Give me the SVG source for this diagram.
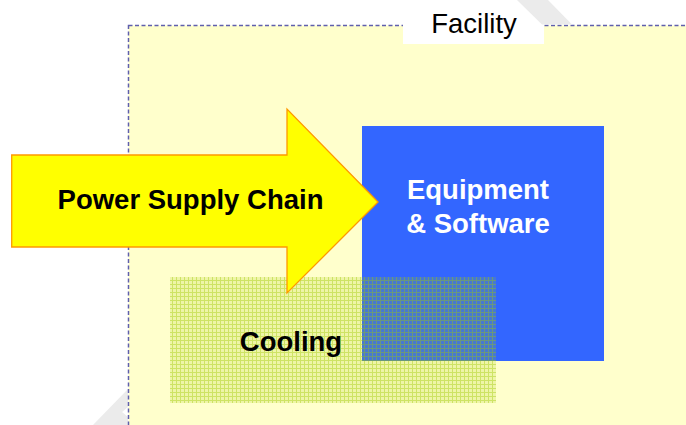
<svg xmlns="http://www.w3.org/2000/svg" width="686" height="425" viewBox="0 0 686 425">
  <style>
    .lbl { font-family: "Liberation Sans", Arial, sans-serif; font-size: 27.5px; }
    .b { font-weight: bold; }
    .wm { fill: #EBEBEB; }
  </style>
  <defs>
    <pattern id="grid" width="4" height="4" patternUnits="userSpaceOnUse">
      <rect x="0" y="0" width="4" height="4" fill="rgb(160,200,0)" fill-opacity="0.18"/>
      <rect x="0" y="0" width="4" height="1" fill="rgb(160,200,0)" fill-opacity="0.4"/>
      <rect x="0" y="1" width="1" height="3" fill="rgb(160,200,0)" fill-opacity="0.4"/>
    </pattern>
  </defs>
  <rect x="0" y="0" width="686" height="425" fill="#FFFFFF"/>
  <!-- watermark fragments -->
  <polygon class="wm" points="93,425 128,389 128,407 122,412 128,417 128,425"/>
  <g id="facility">
    <rect x="128.5" y="25.5" width="570" height="410" fill="#FFFFCC" stroke="#5F5FAD" stroke-width="1.5" stroke-dasharray="4,2.5"/>
    <rect x="403" y="0" width="141" height="44" fill="#FFFFFF"/>
    <polygon class="wm" points="517,0 548,0 572,24.5 542,24.5"/>
    <text class="lbl" x="474" y="33" text-anchor="middle" fill="#000000">Facility</text>
  </g>
  <g id="equipment">
    <rect x="362" y="126" width="242" height="235" fill="#3366FF"/>
    <text class="lbl b" x="478" y="199" text-anchor="middle" fill="#FFFFFF">Equipment</text>
    <text class="lbl b" x="478" y="233" text-anchor="middle" fill="#FFFFFF">&amp; Software</text>
  </g>
  <g id="cooling">
    <rect x="170" y="277" width="326" height="126" fill="url(#grid)"/>
    <text class="lbl b" x="291" y="351" text-anchor="middle" fill="#000000">Cooling</text>
  </g>
  <g id="power">
    <polygon points="11.7,155 287,155 287,109 378,202 287,293 287,247 11.7,247" fill="#FFFF00" stroke="#FF9900" stroke-width="1.3" stroke-linejoin="miter"/>
    <text class="lbl b" x="190.5" y="209" text-anchor="middle" fill="#000000">Power Supply Chain</text>
  </g>
  <g id="connectors"/>
</svg>
